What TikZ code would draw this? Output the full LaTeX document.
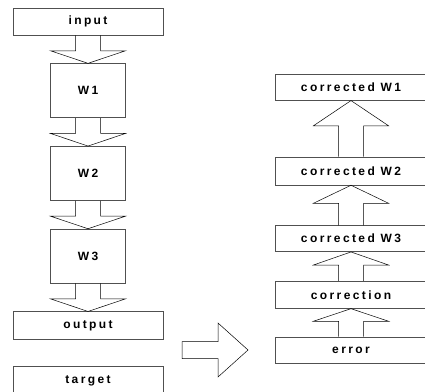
\documentclass[tikz,border=0pt]{standalone}
\usepackage{fontspec}
\newfontfamily\boxfont[LetterSpace=20]{Liberation Sans}
\usetikzlibrary{positioning, calc}
\definecolor{bxEdge}{HTML}{505050}
\tikzset{
  layer/.style={
    draw=bxEdge, line width=0.7pt, fill=white, inner sep=0pt,
    font=\boxfont\bfseries\fontsize{12}{14}\selectfont, text=black
  },
  wide/.style={layer, minimum width=150pt},
  rwide/.style={layer, minimum width=152pt},
  square/.style={layer, minimum width=75pt, minimum height=54pt},
  blockarrow/.style={draw=black, line width=0.5pt},
}
% hollow block arrow from one anchor to another, the head takes 45% of the gap
\newcommand\blockarrow[2]{%
  \draw[blockarrow] let \p1=(#1), \p2=(#2), \p3=($(#2)!0.45!(#1)$) in
    (\x1-12.5pt,\y1) -- (\x1-12.5pt,\y3) -- (\x1-37.5pt,\y3) -- (\x2,\y2)
    -- (\x1+37.5pt,\y3) -- (\x1+12.5pt,\y3) -- (\x1+12.5pt,\y1);
}

\begin{document}
\begin{tikzpicture}[x=1pt, y=-1pt, node distance=28pt]
  \clip (0,0) rectangle (425,391);
  \fill[white] (0,0) rectangle (425,391);

  % forward pass
  \node[wide, minimum height=27pt] (input) at (88,21.5) {input};
  \node[square, below=of input] (w1) {W1};
  \node[square, below=of w1] (w2) {W2};
  \node[square, below=of w2] (w3) {W3};
  \node[wide, minimum height=28pt, below=of w3] (output) {output};
  \node[wide, minimum height=29pt, below=26pt of output] (target) {target};

  \blockarrow{input.south}{w1.north}
  \blockarrow{w1.south}{w2.north}
  \blockarrow{w2.south}{w3.north}
  \blockarrow{w3.south}{output.north}

  % backward pass
  \node[rwide, minimum height=26pt] (error) at (351,350) {error};
  \node[rwide, minimum height=27pt, above=of error] (corr) {correction};
  \node[rwide, minimum height=26pt, above=29pt of corr] (cw3) {corrected W3};
  \node[rwide, minimum height=28pt, above=40pt of cw3] (cw2) {corrected W2};
  \node[rwide, minimum height=26pt, above=56pt of cw2] (cw1) {corrected W1};

  \blockarrow{error.north}{corr.south}
  \blockarrow{corr.north}{cw3.south}
  \blockarrow{cw3.north}{cw2.south}
  \blockarrow{cw2.north}{cw1.south}

  % big arrow between the two passes
  \coordinate (passL) at (182,350);
  \coordinate (passR) at (248,350);
  \draw[blockarrow] let \p1=(passL), \p2=(passR) in
    (\x1,\y1+8.5pt) -- (\x2-30pt,\y1+8.5pt) -- (\x2-30pt,\y1+27pt) -- (\x2,\y2)
    -- (\x2-30pt,\y1-27pt) -- (\x2-30pt,\y1-8.5pt) -- (\x1,\y1-8.5pt) -- cycle;
\end{tikzpicture}
\end{document}
